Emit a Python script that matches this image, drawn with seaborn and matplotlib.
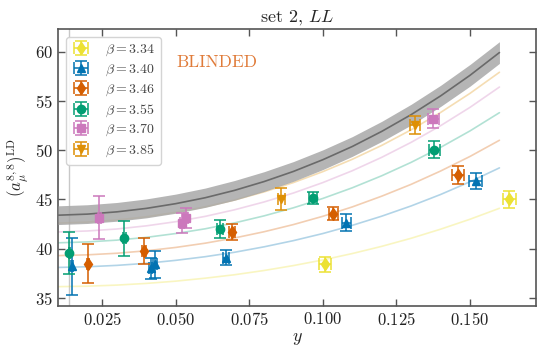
import numpy as np
import pandas as pd
import matplotlib
matplotlib.use("Agg")
import matplotlib.pyplot as plt
import seaborn as sns

# ---------------- data ----------------
betas = ["3.34", "3.40", "3.46", "3.55", "3.70", "3.85"]

y_334 = [0.1007, 0.1633]
a_334 = [38.4, 45.0]
ea_334 = [0.80, 0.85]
ey_334 = [0.0019, 0.0022]

y_340 = [0.0147, 0.0415, 0.0430, 0.0671, 0.1079, 0.1519]
a_340 = [38.2, 38.0, 38.4, 39.1, 42.65, 46.9]
ea_340 = [2.85, 1.1, 1.4, 0.72, 0.9, 0.8]
ey_340 = [0.0003, 0.0006, 0.0006, 0.0009, 0.0015, 0.0021]

y_346 = [0.0201, 0.0393, 0.0690, 0.1036, 0.1458]
a_346 = [38.5, 39.75, 41.7, 43.55, 47.45]
ea_346 = [1.95, 1.35, 0.78, 0.65, 0.9]
ey_346 = [0.0003, 0.0006, 0.0010, 0.0015, 0.0020]

y_355 = [0.0139, 0.0325, 0.0650, 0.0966, 0.1378]
a_355 = [39.55, 41.05, 42.0, 45.15, 50.05]
ea_355 = [2.15, 1.8, 0.95, 0.65, 0.85]
ey_355 = [0.0002, 0.0005, 0.0009, 0.0014, 0.0019]

y_370 = [0.0241, 0.0520, 0.0535, 0.1375]
a_370 = [43.15, 42.6, 43.1, 53.2]
ea_370 = [2.15, 1.0, 1.0, 1.0]
ey_370 = [0.0004, 0.0007, 0.0007, 0.0019]

y_385 = [0.0858, 0.1313]
a_385 = [45.05, 52.55]
ea_385 = [1.1, 0.95]
ey_385 = [0.0012, 0.0018]

# fit curves
y_fit = [0.010, 0.020, 0.030, 0.040, 0.050, 0.060, 0.070, 0.080,
         0.090, 0.100, 0.110, 0.120, 0.130, 0.140, 0.150, 0.160]
fit_334 = [36.15, 36.20, 36.31, 36.48, 36.71, 37.01, 37.36, 37.79,
           38.29, 38.86, 39.51, 40.24, 41.06, 41.98, 42.99, 44.10]
fit_340 = [38.10, 38.17, 38.31, 38.52, 38.82, 39.19, 39.64, 40.19,
           40.82, 41.54, 42.37, 43.30, 44.34, 45.50, 46.79, 48.20]
fit_346 = [39.30, 39.38, 39.54, 39.79, 40.13, 40.56, 41.09, 41.72,
           42.45, 43.29, 44.24, 45.33, 46.53, 47.88, 49.36, 51.00]
fit_355 = [40.60, 40.69, 40.87, 41.15, 41.54, 42.02, 42.62, 43.33,
           44.15, 45.10, 46.18, 47.40, 48.76, 50.28, 51.95, 53.80]
fit_370 = [41.70, 41.80, 42.00, 42.32, 42.74, 43.28, 43.95, 44.74,
           45.65, 46.71, 47.91, 49.27, 50.79, 52.48, 54.34, 56.40]
fit_385 = [42.60, 42.70, 42.91, 43.24, 43.69, 44.25, 44.94, 45.76,
           46.71, 47.82, 49.07, 50.48, 52.06, 53.82, 55.76, 57.90]
cont_mid = [43.40, 43.51, 43.74, 44.09, 44.57, 45.17, 45.92, 46.81,
            47.84, 49.03, 50.37, 51.90, 53.60, 55.50, 57.59, 59.90]
cont_err = [0.95, 0.95, 0.95, 0.96, 0.97, 0.98, 1.00, 1.00,
            1.00, 1.00, 1.00, 1.02, 1.05, 1.07, 1.10, 1.10]

y_vline = 0.0138

# ---------------- style ----------------
sns.set_theme(style="ticks")
plt.rcParams["font.family"] = "serif"
plt.rcParams["font.serif"] = ["cmr10", "DejaVu Serif"]
plt.rcParams["mathtext.fontset"] = "cm"
plt.rcParams["axes.formatter.use_mathtext"] = True
plt.rcParams["axes.unicode_minus"] = False

colors = ["#ece133", "#0173b2", "#d55e00", "#029e73", "#cc78bc", "#de8f05"]
markers = ["d", "^", "d", "o", "s", "v"]
palette = dict(zip(betas, colors))

fig = plt.figure(figsize=(5.37, 3.48), dpi=100)
ax = fig.add_axes([0.108, 0.121, 0.89, 0.796])

# fit lines
fits = [fit_334, fit_340, fit_346, fit_355, fit_370, fit_385]
df_fit = pd.DataFrame({
    "y": np.tile(y_fit, len(betas)),
    "a": np.concatenate(fits),
    "beta": np.repeat(betas, len(y_fit)),
})
sns.lineplot(data=df_fit, x="y", y="a", hue="beta", palette=palette,
             estimator=None, sort=True, lw=1.2, alpha=0.3, legend=False, ax=ax)

# continuum band
lo = np.array(cont_mid) - np.array(cont_err)
hi = np.array(cont_mid) + np.array(cont_err)
ax.fill_between(y_fit, lo, hi, color="#a8a8a8", alpha=0.85, lw=0, zorder=3)
sns.lineplot(x=y_fit, y=cont_mid, color="#6a6a6a", lw=1.2, ax=ax, zorder=4)

ax.axvline(y_vline, color="#c8c8c8", lw=1.0, zorder=1)

# data points
pts = [(y_334, a_334, ey_334, ea_334), (y_340, a_340, ey_340, ea_340),
       (y_346, a_346, ey_346, ea_346), (y_355, a_355, ey_355, ea_355),
       (y_370, a_370, ey_370, ea_370), (y_385, a_385, ey_385, ea_385)]
for b, c, m, (yy, aa, ey, ea) in zip(betas, colors, markers, pts):
    ax.errorbar(yy, aa, xerr=ey, yerr=ea, fmt=m, color=c, ms=6,
                elinewidth=1.1, capsize=4, capthick=1.1, zorder=5,
                label=r"$\beta = %s$" % b)

ax.text(0.0501, 58.9, "BLINDED", color="#e07b39", fontsize=12.5,
        va="center", ha="left")

ax.set_xlim(0.01, 0.1724)
ax.set_ylim(34.2, 62.3)
ax.set_xticks([0.025, 0.050, 0.075, 0.100, 0.125, 0.150])
ax.set_yticks([35, 40, 45, 50, 55, 60])
ax.tick_params(direction="in", top=True, right=True, length=5, width=1,
               color="#555555", labelsize=12, labelcolor="#222222")
for s in ax.spines.values():
    s.set_color("#555555")
    s.set_linewidth(1.2)

ax.set_xlabel(r"$y$", fontsize=13, labelpad=2)
ax.set_ylabel(r"$(a_\mu^{8,8})^{\rm LD}$", fontsize=12, labelpad=4)
ax.set_title(r"set 2, $LL$", fontsize=13, pad=5)

leg = ax.legend(loc="upper left", fontsize=10, frameon=True, fancybox=True,
                edgecolor="#d0d0d0", framealpha=0.9, labelspacing=0.32,
                handlelength=1.3, handletextpad=1.1, borderaxespad=0.6,
                labelcolor="#444444")

fig.savefig("out.png", dpi=100)
